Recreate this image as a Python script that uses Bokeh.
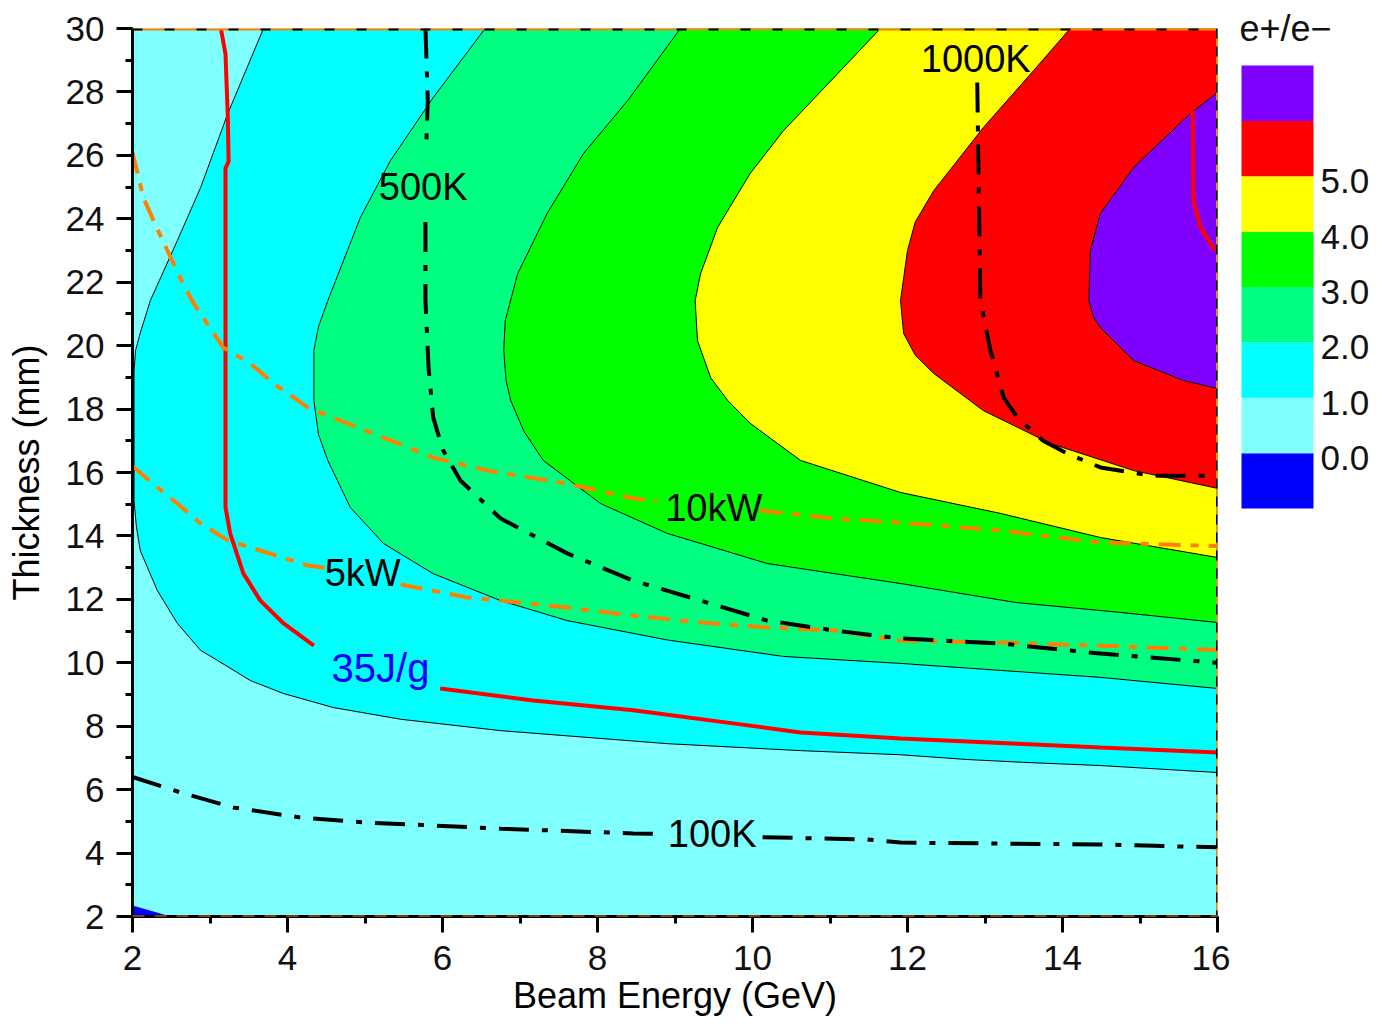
import numpy as np
from bokeh.plotting import figure
from bokeh.models import Range1d, Span, SingleIntervalTicker
from bokeh.layouts import row
from bokeh.embed import file_html
from bokeh.resources import INLINE
from bokeh.core.properties import value

nan = np.nan

# ---------------- data (Beam energy E in GeV, thickness T in mm) ----------------
# e+/e- yield contour boundaries
c0_E = [2.0, 2.45]
c0_T = [2.35, 2.03]
c1_E = [3.69, 3.23, 2.88, 2.58, 2.23, 2.10, 2.04, 2.02, 2.02, 2.05, 2.10, 2.32, 2.58, 2.88, 3.10, 3.52, 3.95, 4.59, 5.46, 6.75, 8.90, 10.62, 11.91, 12.77, 13.50, 14.49, 16.0]
c1_T = [30.0, 27.32, 24.99, 23.32, 21.42, 20.40, 19.85, 19.20, 15.10, 14.30, 13.54, 12.28, 11.24, 10.39, 10.07, 9.44, 9.03, 8.59, 8.22, 7.86, 7.45, 7.23, 7.10, 6.95, 6.86, 6.76, 6.54]
c2_E = [6.55, 5.88, 5.33, 4.94, 4.52, 4.40, 4.34, 4.34, 4.40, 4.52, 4.81, 5.24, 5.88, 6.75, 7.61, 8.90, 10.40, 11.91, 13.20, 14.49, 16.0]
c2_T = [30.0, 27.82, 25.84, 24.04, 21.42, 20.60, 19.85, 18.27, 17.20, 16.38, 14.90, 13.76, 12.81, 11.96, 11.33, 10.72, 10.20, 9.98, 9.76, 9.54, 9.19]
c3_E = [9.07, 8.39, 7.82, 7.35, 6.97, 6.81, 6.79, 6.82, 6.88, 7.05, 7.30, 8.04, 8.90, 10.19, 11.91, 13.40, 14.70, 16.0]
c3_T = [30.0, 27.73, 26.06, 24.17, 22.27, 20.79, 19.85, 18.90, 18.27, 17.30, 16.38, 15.02, 14.08, 13.13, 12.50, 11.90, 11.60, 11.27]
c4_E = [11.65, 11.05, 10.40, 9.97, 9.55, 9.33, 9.26, 9.29, 9.46, 9.68, 9.97, 10.62, 11.91, 13.20, 14.49, 16.0]
c4_T = [30.0, 28.45, 26.78, 25.43, 23.73, 22.27, 21.42, 20.16, 18.99, 18.27, 17.55, 16.38, 15.37, 14.71, 13.95, 13.32]
c5_E = [14.10, 13.63, 12.98, 12.34, 12.10, 12.00, 11.91, 11.95, 12.10, 12.34, 12.98, 13.85, 14.92, 16.0]
c5_T = [30.0, 28.68, 26.88, 24.89, 23.90, 23.00, 21.42, 20.38, 19.70, 19.12, 17.95, 16.91, 16.06, 15.50]
c6_E = [16.0, 15.65, 14.92, 14.49, 14.36, 14.34, 14.40, 14.49, 14.92, 15.56, 16.0]
c6_T = [27.98, 27.32, 25.62, 24.17, 23.00, 21.42, 20.90, 20.57, 19.53, 18.90, 18.65]

# 35 J/g deposited energy density limit
jg_a_E = [3.14, 3.20, 3.23, 3.24, 3.20, 3.20, 3.26, 3.43, 3.65, 3.95, 4.34]
jg_a_T = [30.0, 29.2, 27.2, 25.8, 25.6, 14.9, 14.08, 12.82, 11.96, 11.24, 10.54]
jg_b_E = [5.97, 7.17, 8.46, 9.75, 10.62, 11.91, 13.42, 14.49, 16.0]
jg_b_T = [9.19, 8.81, 8.50, 8.09, 7.80, 7.61, 7.45, 7.33, 7.17]
jg_c_E = [15.68, 15.69, 15.78, 15.97]
jg_c_T = [27.41, 24.58, 23.73, 23.0]

# temperature rise contours
k500_E = [5.78, 5.81, 5.79, nan, 5.78, 5.78, 5.82, 5.88, 6.01, 6.23, 6.75, 7.61, 8.46, 9.33, 10.19, 11.05, 11.91, 13.20, 14.49, 16.0]
k500_T = [30.0, 27.73, 26.30, nan, 23.90, 21.42, 19.31, 17.73, 16.69, 15.75, 14.55, 13.45, 12.59, 11.96, 11.33, 11.02, 10.77, 10.61, 10.29, 10.0]
k1000_E = [12.90, 12.94, 13.07, 13.24, 13.42, 13.75, 14.06, 14.49, 15.14, 16.0]
k1000_T = [28.30, 21.42, 19.85, 18.36, 17.73, 17.00, 16.60, 16.16, 15.90, 15.90]
k100_E = [2.0, 2.66, 3.30, 4.17, 5.03, 5.88, 6.75, 8.46, 8.88, nan, 10.13, 11.48, 11.91, 13.20, 14.49, 16.0]
k100_T = [6.40, 5.88, 5.44, 5.12, 4.96, 4.87, 4.77, 4.62, 4.60, nan, 4.50, 4.43, 4.33, 4.30, 4.27, 4.18]

# beam power contours
p10_E = [2.0, 2.14, 2.27, 2.45, 2.65, 2.79, 3.17, 3.52, 3.82, 4.26, 4.68, 5.33, 5.88, 6.58, 7.61, 8.46, 8.77, nan, 10.10, 11.05, 11.91, 13.20, 14.49, 16.0]
p10_T = [26.1, 24.67, 23.95, 23.0, 21.96, 21.33, 19.94, 19.44, 18.81, 18.05, 17.64, 17.01, 16.47, 16.06, 15.65, 15.18, 15.10, nan, 14.80, 14.55, 14.42, 14.17, 13.79, 13.68]
p5_E = [2.0, 2.32, 2.58, 2.88, 3.23, 3.65, 4.26, 4.52, nan, 5.46, 6.32, 6.75, 7.61, 8.46, 9.33, 10.19, 11.05, 11.91, 13.20, 14.49, 16.0]
p5_T = [16.2, 15.53, 15.02, 14.39, 13.86, 13.54, 13.07, 12.98, nan, 12.47, 12.06, 11.96, 11.74, 11.49, 11.27, 11.11, 11.02, 10.70, 10.64, 10.54, 10.40]

# line labels
lab_text = ["500K", "1000K", "10kW", "5kW", "100K"]
lab_E = [5.75, 12.88, 9.50, 4.97, 9.48]
lab_T = [25.0, 29.05, 14.88, 12.82, 4.60]
jg_lab_text = ["35J/g"]
jg_lab_E = [5.20]
jg_lab_T = [9.85]

# colour scale
band_lo = [-1, 0, 1, 2, 3, 4, 5, 6]
band_hi = [0, 1, 2, 3, 4, 5, 6, 7]
band_colors = ["#0000FF", "#80FFFF", "#00FFFF", "#00FF80", "#00FF00", "#FFFF00", "#FF0000", "#8000FF"]
cb_ticks = [0, 1, 2, 3, 4, 5]
cb_labels = ["0.0", "1.0", "2.0", "3.0", "4.0", "5.0"]

E_MIN, E_MAX = 2, 16
T_MIN, T_MAX = 2, 30

FONT_NAME = "Liberation Sans"
FONT = value(FONT_NAME)

# frame placement (pixels)
FR_TOP, FR_BOT, H = 28, 916, 1027

# ---------------- main figure ----------------
p = figure(width=1230, height=H, x_range=Range1d(E_MIN, E_MAX), y_range=Range1d(T_MIN, T_MAX),
           output_backend="svg", toolbar_location=None,
           min_border_left=132, min_border_right=13, min_border_top=FR_TOP, min_border_bottom=H - FR_BOT)
p.frame_align = False
p.background_fill_color = band_colors[1]
p.border_fill_color = "white"
p.outline_line_color = None
p.grid.visible = False

contours = [(c1_E, c1_T), (c2_E, c2_T), (c3_E, c3_T), (c4_E, c4_T), (c5_E, c5_T)]
xs, ys = [], []
for cE, cT in contours:
    xs.append(list(cE) + [E_MAX])
    ys.append(list(cT) + [T_MAX])
xs.append(list(c6_E))
ys.append(list(c6_T))
p.patches(xs, ys, fill_color=band_colors[2:8], line_color=None)
p.patch(c0_E + [E_MIN], c0_T + [T_MIN], fill_color=band_colors[0], line_color=None)

p.multi_line([c[0] for c in contours] + [c6_E], [c[1] for c in contours] + [c6_T],
             line_color="black", line_width=1)

# red 35 J/g
for e, t in [(jg_a_E, jg_a_T), (jg_b_E, jg_b_T), (jg_c_E, jg_c_T)]:
    p.line(e, t, line_color="#FF0000", line_width=4)

# orange power lines
for e, t in [(p10_E, p10_T), (p5_E, p5_T)]:
    p.line(np.array(e), np.array(t), line_color="#FF8000", line_width=4, line_dash="22 10 8 10")

# black temperature lines
for e, t in [(k500_E, k500_T), (k1000_E, k1000_T), (k100_E, k100_T)]:
    p.line(np.array(e), np.array(t), line_color="black", line_width=4, line_dash="30 13 6 13")

p.text(lab_E, lab_T, text=lab_text, text_font=FONT, text_font_size="38px",
       text_align="center", text_baseline="middle", text_color="black")
p.text(jg_lab_E, jg_lab_T, text=jg_lab_text, text_font=FONT, text_font_size="40px",
       text_align="center", text_baseline="middle", text_color="#0000FF")

# frame edges (contour lines running along the boundary)
p.add_layout(Span(location=T_MAX, dimension="width", line_color="#FF8000", line_width=4))
p.add_layout(Span(location=T_MAX, dimension="width", line_color="black", line_width=4, line_dash="10 22"))
p.add_layout(Span(location=E_MAX, dimension="height", line_color="#FF8000", line_width=3))
p.add_layout(Span(location=E_MAX, dimension="height", line_color="black", line_width=3, line_dash="10 8"))
p.add_layout(Span(location=T_MIN, dimension="width", line_color="#FF8000", line_width=2, line_dash="12 10"))

for ax, lab in [(p.xaxis[0], "Beam Energy (GeV)"), (p.yaxis[0], "Thickness (mm)")]:
    ax.ticker = SingleIntervalTicker(interval=2, num_minor_ticks=2)
    ax.axis_label = lab
    ax.axis_label_text_font = FONT_NAME
    ax.axis_label_text_font_size = "36px"
    ax.axis_label_text_font_style = "normal"
    ax.axis_label_text_color = "black"
    ax.major_label_text_font = FONT_NAME
    ax.major_label_text_font_size = "35px"
    ax.major_label_text_color = "#111111"
    ax.axis_line_width = 3
    ax.axis_line_color = "black"
    ax.major_tick_line_width = 3
    ax.minor_tick_line_width = 3
    ax.major_tick_out = 16
    ax.major_tick_in = 0
    ax.minor_tick_out = 7
    ax.minor_tick_in = 0
p.xaxis.major_label_standoff = 13
p.xaxis.axis_label_standoff = 2
p.yaxis.major_label_standoff = 12
p.yaxis.axis_label_standoff = 16

# ---------------- colour bar figure ----------------
CB_TOP_PX, CB_BOT_PX, TITLE_PX = 65, 508, 28
ppu = (CB_BOT_PX - CB_TOP_PX) / (band_hi[-1] - band_lo[0])
y_end = band_hi[-1] + CB_TOP_PX / ppu
y_start = band_lo[0] - (H - CB_BOT_PX) / ppu
cb = figure(width=147, height=H, x_range=Range1d(0, 147), y_range=Range1d(y_start, y_end),
            output_backend="svg", toolbar_location=None, min_border=0,
            x_axis_location=None, y_axis_location=None)
cb.frame_align = False
cb.grid.visible = False
cb.outline_line_color = None
cb.background_fill_color = "white"
cb.border_fill_color = "white"
cb.quad(left=11, right=83, bottom=band_lo, top=band_hi, fill_color=band_colors, line_color=None)
cb.text(x=[90] * len(cb_ticks), y=cb_ticks, text=cb_labels, text_font=FONT, text_font_size="35px",
        text_align="left", text_baseline="middle", y_offset=5, text_color="#111111")
cb.text(x=[55], y=[band_hi[-1] + (CB_TOP_PX - TITLE_PX) / ppu], text=["e+/e\u2212"], text_font=FONT,
        text_font_size="36px", text_align="center", text_baseline="middle", text_color="#111111")

layout = row(p, cb)
open("out.html", "w").write(file_html(layout, INLINE))
